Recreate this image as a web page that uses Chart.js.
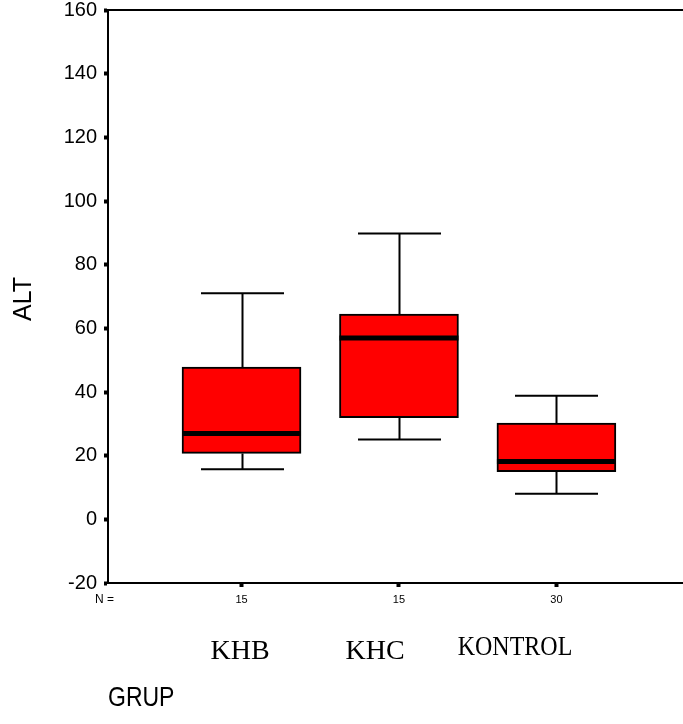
<!DOCTYPE html>
<html>
<head>
<meta charset="utf-8">
<script src="https://cdn.jsdelivr.net/npm/chart.js@4"></script>
<style>
  html, body { margin: 0; padding: 0; background: #fff; }
  #wrap { width: 683px; height: 724px; position: relative; }
</style>
</head>
<body>
<div id="wrap"><canvas id="grafik"></canvas></div>
<script>
// ─── Veri ─────────────────────────────────────────────────────────────────────
const grupAdlari  = ['KHB', 'KHC', 'KONTROL'];
const grupX       = [1, 2, 3];
const nDegerleri  = [15, 15, 30];
const altBiyik    = [15.7, 25.1, 8.0];
const ceyrek1     = [20.7, 31.9, 15.0];
const medyan      = [27.0, 57.0, 18.2];
const ceyrek3     = [47.8, 64.5, 30.2];
const ustBiyik    = [71.0, 89.8, 38.8];
const yTikler     = [-20, 0, 20, 40, 60, 80, 100, 120, 140, 160];

// ─── Yerleşim / stil ──────────────────────────────────────────────────────────
const SANS  = "'Liberation Sans', Arial, sans-serif";
const SERIF = "'Liberation Serif', 'Times New Roman', serif";
const KUTU_GEN  = 119;
const KAPAK_GEN = 83;
const etiketKonum = [
  { x: 240, y: 652, size: 28, sy: 1.0 },
  { x: 375, y: 652, size: 28, sy: 1.0 },
  { x: 515, y: 648, size: 24, sy: 1.14 },
];

function metin(ctx, txt, x, y, font, sy, align) {
  ctx.save();
  ctx.translate(x, y);
  ctx.scale(1, sy);
  ctx.font = font;
  ctx.fillStyle = '#000';
  ctx.textAlign = align || 'center';
  ctx.textBaseline = 'middle';
  ctx.fillText(txt, 0, 0);
  ctx.restore();
}

// ─── Bıyıklar, medyanlar ve yazılar ──────────────────────────────────────────
const kutuCizim = {
  id: 'kutuCizim',
  beforeDatasetsDraw(chart) {
    const { ctx, scales: { x, y } } = chart;
    ctx.save();
    ctx.strokeStyle = '#000';
    ctx.lineWidth = 2;
    grupX.forEach((g, i) => {
      const px = Math.round(x.getPixelForValue(g)) + 0.5;
      const yUst = y.getPixelForValue(ustBiyik[i]);
      const yAlt = y.getPixelForValue(altBiyik[i]);
      ctx.beginPath();
      ctx.moveTo(px, yUst); ctx.lineTo(px, y.getPixelForValue(ceyrek3[i]));
      ctx.moveTo(px, yAlt); ctx.lineTo(px, y.getPixelForValue(ceyrek1[i]));
      ctx.moveTo(px - KAPAK_GEN / 2, yUst); ctx.lineTo(px + KAPAK_GEN / 2, yUst);
      ctx.moveTo(px - KAPAK_GEN / 2, yAlt); ctx.lineTo(px + KAPAK_GEN / 2, yAlt);
      ctx.stroke();
    });
    ctx.restore();
  },
  afterDatasetsDraw(chart) {
    const { ctx, scales: { x, y } } = chart;
    ctx.save();
    ctx.strokeStyle = '#000';
    ctx.lineWidth = 5;
    grupX.forEach((g, i) => {
      const px = x.getPixelForValue(g);
      const py = y.getPixelForValue(medyan[i]);
      ctx.beginPath();
      ctx.moveTo(px - KUTU_GEN / 2, py);
      ctx.lineTo(px + KUTU_GEN / 2, py);
      ctx.stroke();
    });
    ctx.restore();
  },
  afterDraw(chart) {
    const { ctx, chartArea: a } = chart;
    // üst çerçeve çizgisi
    ctx.save();
    ctx.strokeStyle = '#000';
    ctx.lineWidth = 2;
    ctx.beginPath();
    ctx.moveTo(a.left, a.top);
    ctx.lineTo(a.right, a.top);
    ctx.stroke();
    ctx.restore();

    metin(ctx, 'N =', 95, 600, `12px ${SANS}`, 1, 'left');
    grupAdlari.forEach((ad, i) => {
      const k = etiketKonum[i];
      metin(ctx, ad, k.x, k.y, `${k.size}px ${SERIF}`, k.sy);
    });
    metin(ctx, 'GRUP', 108, 698, `23px ${SANS}`, 1.2, 'left');

    ctx.save();
    ctx.translate(24, 299);
    ctx.rotate(-Math.PI / 2);
    ctx.font = `25px ${SANS}`;
    ctx.fillStyle = '#000';
    ctx.textAlign = 'center';
    ctx.textBaseline = 'middle';
    ctx.fillText('ALT', 0, 0);
    ctx.restore();
  },
};

// ─── Grafik ───────────────────────────────────────────────────────────────────
new Chart(document.getElementById('grafik'), {
  type: 'bar',
  data: {
    datasets: [{
      data: grupX.map((g, i) => ({ x: g, y: [ceyrek1[i], ceyrek3[i]] })),
      backgroundColor: '#ff0000',
      borderColor: '#000',
      borderWidth: 2,
      borderSkipped: false,
      barThickness: KUTU_GEN,
    }],
  },
  options: {
    responsive: true,
    maintainAspectRatio: false,
    animation: false,
    layout: { padding: { top: 10, left: 0, right: 0, bottom: 0 } },
    plugins: { legend: { display: false }, tooltip: { enabled: false } },
    scales: {
      x: {
        type: 'linear',
        min: 0.152,
        max: 3.804,
        offset: false,
        afterFit: s => { s.height = 141; s.paddingLeft = 0; s.paddingRight = 0; },
        afterBuildTicks: s => { s.ticks = grupX.map(v => ({ value: v })); },
        ticks: {
          callback: v => nDegerleri[grupX.indexOf(v)] ?? '',
          font: { family: SANS, size: 11 },
          color: '#000',
          padding: 6,
          maxRotation: 0,
          autoSkip: false,
        },
        grid: { offset: false, drawOnChartArea: false, tickLength: 4, tickWidth: 4, color: '#000' },
        border: { display: true, width: 2, color: '#000' },
      },
      y: {
        min: -20,
        max: 160,
        afterFit: s => { s.width = 108; s.paddingTop = 0; s.paddingBottom = 0; },
        afterBuildTicks: s => { s.ticks = yTikler.map(v => ({ value: v })); },
        ticks: {
          font: { family: SANS, size: 20, lineHeight: 1 },
          color: '#000',
          padding: 7,
        },
        grid: { drawOnChartArea: false, tickLength: 4, tickWidth: 4, color: '#000' },
        border: { display: true, width: 2, color: '#000' },
      },
    },
  },
  plugins: [kutuCizim],
});
</script>
</body>
</html>
